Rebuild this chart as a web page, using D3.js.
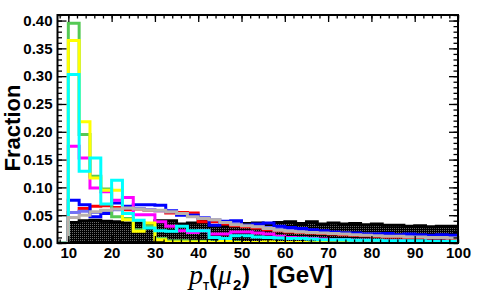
<!DOCTYPE html>
<html>
<head>
<meta charset="utf-8">
<script src="https://cdn.jsdelivr.net/npm/d3@7"></script>
<style>
  body { margin: 0; background: #fff; }
  svg text { font-family: "Liberation Sans", Arial, sans-serif; font-weight: bold; }
</style>
</head>
<body>
<div id="chart"></div>
<script>
// bin edges in GeV (first bin is empty, below the 10 GeV cut)
let binEdges = [7.5, 10, 12.5, 15, 17.5, 20, 22.5, 25, 27.5, 30, 32.5, 35, 37.5, 40, 42.5, 45, 47.5, 50,
  52.5, 55, 57.5, 60, 62.5, 65, 67.5, 70, 72.5, 75, 77.5, 80, 82.5, 85, 87.5, 90, 92.5, 95, 97.5, 100];

let blackVals = [0, 0.037, 0.04, 0.041, 0.039, 0.038, 0.036, 0.036, 0.031, 0.04,
  0.04, 0.034, 0.036, 0.039, 0.031, 0.031, 0.033, 0.035, 0.036, 0.034,
  0.037, 0.038, 0.035, 0.038, 0.034, 0.036, 0.034, 0.035, 0.033, 0.034,
  0.032, 0.032, 0.03, 0.031, 0.029, 0.03, 0.03];
let redVals = [0, 0.055, 0.062, 0.066, 0.067, 0.064, 0.06, 0.061, 0.059, 0.058,
  0.054, 0.055, 0.054, 0.038, 0.038, 0.034, 0.031, 0.029, 0.027, 0.024,
  0.022, 0.02, 0.019, 0.018, 0.017, 0.016, 0.015, 0.014, 0.013, 0.012,
  0.011, 0.011, 0.01, 0.01, 0.009, 0.009, 0.008];
let lavenderVals = [0, 0.055, 0.057, 0.055, 0.058, 0.06, 0.063, 0.062, 0.06, 0.058,
  0.056, 0.053, 0.05, 0.045, 0.042, 0.038, 0.035, 0.032, 0.03, 0.028,
  0.026, 0.024, 0.022, 0.021, 0.02, 0.019, 0.018, 0.017, 0.016, 0.016,
  0.015, 0.014, 0.014, 0.013, 0.013, 0.012, 0.012];
let blueVals = [0, 0.077, 0.069, 0.047, 0.053, 0.072, 0.066, 0.069, 0.069, 0.068,
  0.058, 0.05, 0.05, 0.045, 0.032, 0.039, 0.04, 0.032, 0.034, 0.036,
  0.03, 0.028, 0.026, 0.024, 0.022, 0.02, 0.018, 0.018, 0.016, 0.016,
  0.017, 0.015, 0.016, 0.015, 0.014, 0.015, 0.014];
let magentaVals = [0, 0.174, 0.153, 0.099, 0.092, 0.077, 0.082, 0.051, 0.051, 0.038,
  0.03, 0.022, 0.019, 0.022, 0.016, 0.016, 0.02, 0.02, 0.018, 0.016,
  0.012, 0.01, 0.009, 0.008, 0.007, 0.006, 0.006, 0.005, 0.005, 0.004,
  0.004, 0.004, 0.003, 0.003, 0.003, 0.003, 0.002];
let greenVals = [0, 0.395, 0.195, 0.12, 0.097, 0.047, 0.044, 0.024, 0.03, 0.008,
  0.004, 0.004, 0.003, 0.003, 0.002, 0.002, 0.002, 0.001, 0.001, 0.001,
  0.001, 0.001, 0, 0.001, 0, 0, 0.001, 0, 0, 0,
  0, 0, 0, 0, 0, 0, 0];
let yellowVals = [0, 0.364, 0.218, 0.117, 0.095, 0.095, 0.042, 0.021, 0.036, 0.006,
  0.002, 0.002, 0.002, 0.002, 0.001, 0.003, 0.001, 0.001, 0.001, 0.002,
  0.001, 0.001, 0.001, 0, 0.001, 0, 0, 0, 0, 0,
  0, 0, 0, 0, 0, 0, 0];
let cyanVals = [0, 0.303, 0.129, 0.153, 0.07, 0.113, 0.053, 0.041, 0.027, 0.022,
  0.021, 0.03, 0.022, 0.022, 0.01, 0.008, 0.013, 0.013, 0.011, 0.01,
  0.009, 0.008, 0.008, 0.007, 0.006, 0.006, 0.006, 0.005, 0.005, 0.005,
  0.004, 0.004, 0.004, 0.004, 0.003, 0.003, 0.003];
let greyVals = [0, 0.046, 0.05, 0.056, 0.059, 0.061, 0.063, 0.061, 0.059, 0.059,
  0.056, 0.053, 0.047, 0.044, 0.042, 0.037, 0.033, 0.031, 0.029, 0.026,
  0.023, 0.021, 0.02, 0.019, 0.018, 0.017, 0.016, 0.015, 0.014, 0.013,
  0.012, 0.012, 0.011, 0.011, 0.01, 0.01, 0.009];

let xTickLabels = [10, 20, 30, 40, 50, 60, 70, 80, 90, 100];
let yTickLabels = [0, 0.05, 0.1, 0.15, 0.2, 0.25, 0.3, 0.35, 0.4];

// drawn in this order, last on top
let lineSeries = [
  { name: 'red', values: redVals, color: '#ff0000' },
  { name: 'lavender', values: lavenderVals, color: '#7373f5' },
  { name: 'blue', values: blueVals, color: '#0000ff' },
  { name: 'magenta', values: magentaVals, color: '#ff00ff' },
  { name: 'green', values: greenVals, color: '#55c955' },
  { name: 'yellow', values: yellowVals, color: '#ffff00' },
  { name: 'cyan', values: cyanVals, color: '#00ffff' },
  { name: 'grey', values: greyVals, color: '#b9b2ac' }
];

let width = 477;
let height = 307;
let frameL = 57.5, frameR = 458, frameT = 15, frameB = 243;

let x = d3.scaleLinear().domain([7.5, 100]).range([frameL, frameR]);
let y = d3.scaleLinear().domain([0, 0.41]).range([frameB, frameT]);

let svg = d3.select('#chart')
  .append('svg')
  .attr('width', width)
  .attr('height', height);

let defs = svg.append('defs');
defs.append('clipPath').attr('id', 'frame')
  .append('rect')
  .attr('x', frameL).attr('y', frameT)
  .attr('width', frameR - frameL).attr('height', frameB - frameT);

let pat = defs.append('pattern')
  .attr('id', 'dots')
  .attr('width', 2).attr('height', 2)
  .attr('patternUnits', 'userSpaceOnUse');
pat.append('rect').attr('width', 2).attr('height', 2).attr('fill', '#000');
pat.append('rect').attr('x', 0).attr('y', 0).attr('width', 1).attr('height', 1).attr('fill', '#6a6a6a');

// step outline of a histogram
function stepPoints(vals) {
  let pts = [[binEdges[0], 0]];
  vals.forEach((v, i) => {
    pts.push([binEdges[i], v]);
    pts.push([binEdges[i + 1], v]);
  });
  pts.push([binEdges[binEdges.length - 1], 0]);
  return pts;
}

let line = d3.line().x(d => x(d[0])).y(d => y(d[1]));

let plot = svg.append('g').attr('clip-path', 'url(#frame)');

plot.append('path')
  .attr('d', line(stepPoints(blackVals)) + 'Z')
  .attr('fill', 'url(#dots)')
  .attr('stroke', '#000')
  .attr('stroke-width', 3);

plot.selectAll('.hist')
  .data(lineSeries)
  .enter()
  .append('path')
  .attr('class', 'hist')
  .attr('d', d => line(stepPoints(d.values)))
  .attr('fill', 'none')
  .attr('stroke', d => d.color)
  .attr('stroke-width', 3)
  .attr('stroke-linejoin', 'miter');

// axes, ticks inside the frame on all four sides
let yMinor = d3.range(0, 0.4101, 0.01);
let xMinor = d3.range(8, 100.01, 2);

svg.append('g')
  .attr('transform', `translate(${frameL},0)`)
  .call(d3.axisLeft(y).tickValues(yMinor).tickSize(-4.5).tickFormat(''));
svg.append('g')
  .attr('transform', `translate(${frameL},0)`)
  .call(d3.axisLeft(y).tickValues(yTickLabels).tickSize(-9).tickPadding(5).tickFormat(d3.format('.2f')))
  .attr('class', 'ylab');
svg.append('g')
  .attr('transform', `translate(${frameR},0)`)
  .call(d3.axisRight(y).tickValues(yMinor).tickSize(-4.5).tickFormat(''));
svg.append('g')
  .attr('transform', `translate(${frameR},0)`)
  .call(d3.axisRight(y).tickValues(yTickLabels).tickSize(-9).tickFormat(''));

svg.append('g')
  .attr('transform', `translate(0,${frameT})`)
  .call(d3.axisTop(x).tickValues(xMinor).tickSize(-3.5).tickFormat(''));
svg.append('g')
  .attr('transform', `translate(0,${frameT})`)
  .call(d3.axisTop(x).tickValues(xTickLabels).tickSize(-7).tickFormat(''));
svg.append('g')
  .attr('transform', `translate(0,${frameB})`)
  .call(d3.axisBottom(x).tickValues(xMinor).tickSize(-3.5).tickFormat(''));
svg.append('g')
  .attr('transform', `translate(0,${frameB})`)
  .call(d3.axisBottom(x).tickValues(xTickLabels).tickSize(-7).tickPadding(4))
  .attr('class', 'xlab');

svg.selectAll('.domain').remove();
svg.selectAll('.tick line').attr('stroke', '#000').attr('stroke-width', 1.3);
svg.selectAll('.ylab text, .xlab text')
  .style('font-size', '15px')
  .attr('fill', '#000');

svg.append('rect')
  .attr('x', frameL).attr('y', frameT)
  .attr('width', frameR - frameL).attr('height', frameB - frameT)
  .attr('fill', 'none')
  .attr('stroke', '#000')
  .attr('stroke-width', 2);

// titles
svg.append('text')
  .attr('transform', 'translate(20,128) rotate(-90)')
  .attr('text-anchor', 'middle')
  .style('font-size', '22px')
  .text('Fraction');

let title = svg.append('text');
title.append('tspan').attr('x', 189).attr('y', 284)
  .style('font-family', '"Liberation Serif", serif').style('font-style', 'italic').style('font-weight', 'normal')
  .style('font-size', '28px').text('p');
title.append('tspan').attr('x', 203).attr('y', 290).style('font-size', '10px').text('T');
title.append('tspan').attr('x', 209).attr('y', 283).style('font-size', '24px').text('(');
title.append('tspan').attr('x', 218).attr('y', 284)
  .style('font-family', '"Liberation Serif", serif').style('font-style', 'italic').style('font-weight', 'normal')
  .style('font-size', '28px').text('μ');
title.append('tspan').attr('x', 233).attr('y', 290).style('font-size', '15px').text('2');
title.append('tspan').attr('x', 242).attr('y', 283).style('font-size', '24px').text(')');
title.append('tspan').attr('x', 269).attr('y', 283).style('font-size', '24px').text('[GeV]');
</script>
</body>
</html>
